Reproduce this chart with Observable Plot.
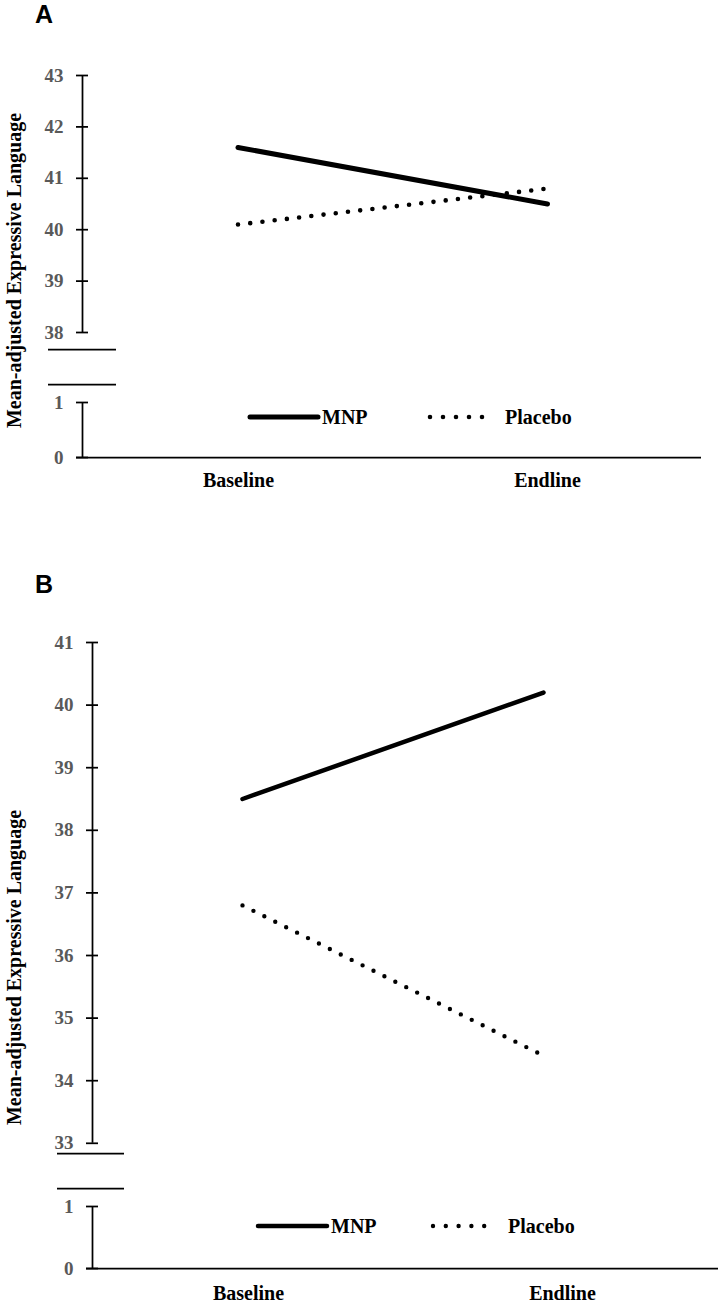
<!DOCTYPE html>
<html>
<head>
<meta charset="utf-8">
<script src="https://cdn.jsdelivr.net/npm/d3@7"></script>
<script src="https://cdn.jsdelivr.net/npm/@observablehq/plot@0.6"></script>
<style>
html, body { margin: 0; padding: 0; background: #fff; }
#wrap { position: relative; width: 724px; height: 1303px; overflow: hidden; background: #fff; }
.panel-label { position: absolute; font-family: "Liberation Sans", Arial, sans-serif; font-weight: bold; font-size: 25px; line-height: 25px; color: #000; }
</style>
</head>
<body>
<div id="wrap"></div>
<script>
// ---------------- data ----------------
const timepoints = ["Baseline", "Endline"];
const groups = ["MNP", "Placebo"];
const panelA_MNP = [41.6, 40.5];
const panelA_Placebo = [40.1, 40.8];
const panelB_MNP = [38.5, 40.2];
const panelB_Placebo = [36.8, 34.4];
const panelA_ticks = [0, 1, 38, 39, 40, 41, 42, 43];
const panelB_ticks = [0, 1, 33, 34, 35, 36, 37, 38, 39, 40, 41];
const yTitle = "Mean-adjusted Expressive Language";
const panelLabels = ["A", "B"];

// ---------------- layout (page pixel coordinates) ----------------
const layouts = [
  {
    top: 0, height: 500, labelTop: 2,
    axisX: 82, rightEnd: 701, xRange: [237.5, 547], xLabelDx: [0.5, 0],
    yPix: [457, 402, 332, 75],
    breaks: [349, 384], breakX: [48, 116],
    xLabelPad: 15, titleY: 270,
    legend: { y: 417, mnp: [250, 318], mnpText: 322, plc: [430, 495], plcText: 505, plcGap: 13 },
    lineW: 5, dotW: 4.6, dotGap: 12.3
  },
  {
    top: 560, height: 743, labelTop: 572,
    axisX: 92, rightEnd: 718, xRange: [242, 543], xLabelDx: [6, 19],
    yPix: [1268, 1206, 1142.8, 642],
    breaks: [1153, 1188], breakX: [57, 124],
    xLabelPad: 17, titleY: 967,
    legend: { y: 1226, mnp: [258, 327], mnpText: 331, plc: [433, 497], plcText: 508, plcGap: 12.8 },
    lineW: 4.5, dotW: 4.4, dotGap: 12.2
  }
];

const panelData = [
  { mnp: panelA_MNP, placebo: panelA_Placebo, ticks: panelA_ticks },
  { mnp: panelB_MNP, placebo: panelB_Placebo, ticks: panelB_ticks }
];

const wrap = document.getElementById("wrap");
const serif = '"Liberation Serif", "Times New Roman", serif';

panelData.forEach((pd, k) => {
  const p = layouts[k];
  const off = p.top;
  const yDom = [pd.ticks[0], pd.ticks[1], pd.ticks[2], pd.ticks[pd.ticks.length - 1]];
  const yRng = p.yPix.map(v => v - off);
  const yInv = d3.scaleLinear().domain(yRng).range(yDom);
  const xInv = d3.scaleLinear().domain(p.xRange).range([0, 1]);

  const rows = [];
  groups.forEach((g, gi) => {
    const vals = gi === 0 ? pd.mnp : pd.placebo;
    vals.forEach((v, i) => rows.push({ group: g, t: i, value: v }));
  });

  const marginLeft = p.axisX;
  const marginRight = 724 - p.rightEnd;
  const marginTop = yRng[3];
  const marginBottom = p.height - yRng[0];
  const frameMid = (marginTop + p.height - marginBottom) / 2;
  const axisVal = xInv(p.axisX);

  const chart = Plot.plot({
    width: 724,
    height: p.height,
    marginLeft, marginRight, marginTop, marginBottom,
    style: { fontFamily: serif, background: "white", overflow: "visible" },
    x: { type: "linear", domain: [0, 1], range: p.xRange, label: null },
    y: { type: "linear", domain: yDom, range: yRng, label: null },
    marks: [
      Plot.ruleX([axisVal], { y1: yDom[2], y2: yDom[3], stroke: "black", strokeWidth: 1.75 }),
      Plot.ruleX([axisVal], { y1: yDom[0], y2: yDom[1], stroke: "black", strokeWidth: 1.75 }),
      Plot.ruleY([0], { insetLeft: -6, stroke: "black", strokeWidth: 1.75 }),
      Plot.ruleY(p.breaks.map(b => yInv(b - off)), {
        x1: xInv(p.breakX[0]), x2: xInv(p.breakX[1]), stroke: "black", strokeWidth: 1.75
      }),
      Plot.axisY(pd.ticks, {
        label: null, tickSize: 12, dx: 6, tickPadding: 13, stroke: "black", fill: "#595959",
        strokeWidth: 1.75, fontSize: 19, fontWeight: "bold", tickFormat: d => String(d)
      }),
      ...timepoints.map((name, i) => Plot.axisX([i], {
        label: null, tickSize: 0, tickPadding: p.xLabelPad, fill: "black", dx: p.xLabelDx[i],
        fontSize: 20, fontWeight: "bold", tickFormat: j => timepoints[j]
      })),
      Plot.line(rows.filter(d => d.group === groups[0]), {
        x: "t", y: "value", stroke: "black", strokeWidth: p.lineW, strokeLinecap: "round"
      }),
      Plot.line(rows.filter(d => d.group === groups[1]), {
        x: "t", y: "value", stroke: "black", strokeWidth: p.dotW, strokeLinecap: "round",
        strokeDasharray: `0 ${p.dotGap}`
      }),
      Plot.text([yTitle], {
        frameAnchor: "left", textAnchor: "middle", lineAnchor: "middle", rotate: -90,
        dx: 14 - marginLeft, dy: (p.titleY - off) - frameMid,
        fontSize: 20, fontWeight: "bold", fill: "black"
      })
    ]
  });

  // legend
  const L = p.legend;
  const svg = d3.select(chart);
  const lg = svg.append("g").attr("font-family", serif).attr("font-weight", "bold")
    .attr("font-size", 20).attr("text-anchor", "start").attr("fill", "black");
  lg.append("line")
    .attr("x1", L.mnp[0]).attr("x2", L.mnp[1]).attr("y1", L.y - off).attr("y2", L.y - off)
    .attr("stroke", "black").attr("stroke-width", p.lineW).attr("stroke-linecap", "round");
  lg.append("text").attr("x", L.mnpText).attr("y", L.y - off).attr("dy", "0.35em").text(groups[0]);
  lg.append("line")
    .attr("x1", L.plc[0]).attr("x2", L.plc[1]).attr("y1", L.y - off).attr("y2", L.y - off)
    .attr("stroke", "black").attr("stroke-width", p.dotW).attr("stroke-linecap", "round")
    .attr("stroke-dasharray", `0 ${L.plcGap}`);
  lg.append("text").attr("x", L.plcText).attr("y", L.y - off).attr("dy", "0.35em").text(groups[1]);

  chart.style.position = "absolute";
  chart.style.left = "0px";
  chart.style.top = p.top + "px";
  wrap.appendChild(chart);

  const lab = document.createElement("div");
  lab.className = "panel-label";
  lab.style.left = "35px";
  lab.style.top = p.labelTop + "px";
  lab.textContent = panelLabels[k];
  wrap.appendChild(lab);
});
</script>
</body>
</html>
